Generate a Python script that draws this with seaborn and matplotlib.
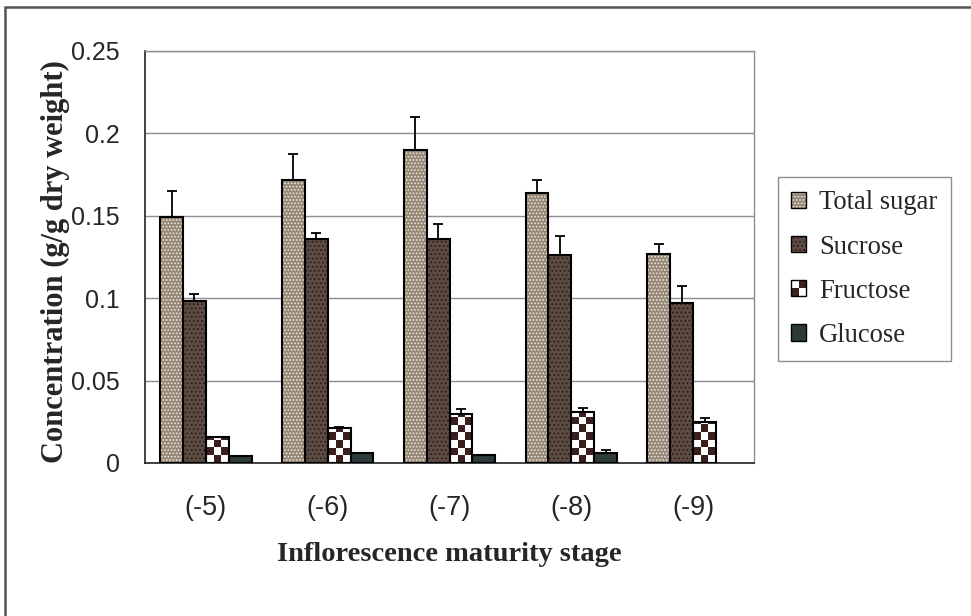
import seaborn as sns
import matplotlib.pyplot as plt
import matplotlib.patches as mpatches
from matplotlib.legend_handler import HandlerBase
from matplotlib.colors import ListedColormap
from matplotlib.ticker import FixedLocator, FuncFormatter
import numpy as np
import pandas as pd

stages = ['(-5)', '(-6)', '(-7)', '(-8)', '(-9)']
sugars = ['Total sugar', 'Sucrose', 'Fructose', 'Glucose']

total_sugar = [0.149, 0.172, 0.190, 0.164, 0.127]
sucrose = [0.098, 0.136, 0.136, 0.126, 0.097]
fructose = [0.016, 0.021, 0.030, 0.031, 0.025]
glucose = [0.0045, 0.006, 0.005, 0.006, 0.0]

# upper error only
total_sugar_err = [0.016, 0.0155, 0.020, 0.0075, 0.006]
sucrose_err = [0.0045, 0.0035, 0.009, 0.0115, 0.0105]
fructose_err = [0.0, 0.001, 0.0025, 0.0025, 0.0024]
glucose_err = [0.0, 0.0, 0.0, 0.002, 0.0]

values = [total_sugar, sucrose, fructose, glucose]
errors = [total_sugar_err, sucrose_err, fructose_err, glucose_err]

df = pd.DataFrame({
  'stage': np.tile(stages, len(sugars)),
  'sugar': np.repeat(sugars, len(stages)),
  'value': np.concatenate(values),
})

# face colour, hatch colour, hatch, checker
styles = {
  'Total sugar': ('#968676', '#ece6dc', '.....', False),
  'Sucrose': ('#5e4c43', '#281e1b', '....', False),
  'Fructose': ('#ffffff', '#3b1e1e', '', True),
  'Glucose': ('#2c3a3a', '#2c3a3a', '', False),
}

sns.set_style("white")
plt.rcParams['hatch.linewidth'] = 0.8

fig = plt.figure(figsize=(9.71, 6.16), dpi=100)
ax = fig.add_axes([145/971, 1 - 463/616, 609/971, 412/616])

sns.barplot(data=df, x='stage', y='value', hue='sugar', order=stages, hue_order=sugars,
            palette=[styles[s][0] for s in sugars], errorbar=None, width=0.75,
            legend=False, ax=ax)

ax.set_xlim(-0.5, 4.5)
ax.set_ylim(0, 0.25)

# data units per pixel (vertical)
px_per_unit = ax.get_window_extent().height / 0.25

bar_containers = list(ax.containers)
for i, cont in enumerate(bar_containers):
  face, hcol, hatch, checker = styles[sugars[i]]
  for j, bar in enumerate(cont.patches):
    bar.set_facecolor(face)
    bar.set_hatch(hatch)
    bar.set_edgecolor(hcol)
    bar.set_linewidth(0)
    bar.set_zorder(2)
    x0, w, h = bar.get_x(), bar.get_width(), bar.get_height()
    if h <= 0:
      continue
    if checker:
      ncol = 3
      w_px = w * ax.get_window_extent().width / 5.0
      sq_h = (w_px / ncol) / px_per_unit
      nrow = int(np.ceil(h / sq_h))
      pattern = np.add.outer(np.arange(nrow), np.arange(ncol)) % 2
      img = ax.imshow(pattern, cmap=ListedColormap([face, hcol]),
                      extent=[x0, x0 + w, 0, nrow * sq_h], origin='lower',
                      aspect='auto', interpolation='nearest', zorder=2.1)
      img.set_clip_path(bar)
    ax.add_patch(mpatches.Rectangle((x0, 0), w, h, fill=False, edgecolor='black',
                                    linewidth=1.5, zorder=3))
    err = errors[i][j]
    if err > 0:
      ax.errorbar(x0 + w / 2, h, yerr=[[0], [err]], fmt='none', ecolor='black',
                  elinewidth=1.3, capsize=3.8, capthick=1.3, zorder=4)

ax.set_xlim(-0.5, 4.5)
ax.set_ylim(0, 0.25)

# grid and spines
ax.set_axisbelow(True)
ax.yaxis.grid(True, color='#8e8c98', linewidth=1.0)
ax.xaxis.grid(False)
for side in ['left', 'bottom']:
  ax.spines[side].set_color('#222222')
  ax.spines[side].set_linewidth(1.2)
for side in ['top', 'right']:
  ax.spines[side].set_visible(True)
  ax.spines[side].set_color('#8e8c98')
  ax.spines[side].set_linewidth(1.0)

ax.set_yticks(np.arange(0, 0.2501, 0.05))
ax.yaxis.set_major_formatter(FuncFormatter(lambda v, p: f"{v:g}"))
ax.tick_params(axis='y', direction='out', length=5, width=1, color='#222222',
               pad=13, labelsize=18)
ax.tick_params(axis='x', which='major', length=0, pad=23, labelsize=19.5)
ax.xaxis.set_minor_locator(FixedLocator(np.arange(-0.5, 4.6, 1.0)))
ax.tick_params(axis='x', which='minor', direction='out', length=6, width=1, color='#222222')
for lab in ax.get_xticklabels() + ax.get_yticklabels():
  lab.set_family('Liberation Sans')

ax.set_xlabel('Inflorescence maturity stage', family='Liberation Serif', fontweight='bold',
              fontsize=20.5, labelpad=15)
ax.set_ylabel('')
fig.text(55/971, 1 - 262/616, 'Concentration (g/g dry weight)', rotation=90,
         family='Liberation Serif', fontweight='bold', fontsize=22,
         ha='center', va='center')

# legend with swatches
class Swatch:
  def __init__(self, name):
    self.name = name

class SwatchHandler(HandlerBase):
  def create_artists(self, legend, orig_handle, xdescent, ydescent, width, height, fontsize, trans):
    face, hcol, hatch, checker = styles[orig_handle.name]
    x, y = -xdescent, -ydescent
    arts = []
    if checker:
      for r in range(2):
        for c in range(2):
          col = hcol if (r + c) % 2 == 0 else face
          arts.append(mpatches.Rectangle((x + c * width / 2, y + r * height / 2), width / 2, height / 2,
                                         facecolor=col, linewidth=0, transform=trans))
    else:
      arts.append(mpatches.Rectangle((x, y), width, height, facecolor=face, edgecolor=hcol,
                                     hatch=hatch, linewidth=0, transform=trans))
    arts.append(mpatches.Rectangle((x, y), width, height, fill=False, edgecolor='black',
                                   linewidth=1.0, transform=trans))
    return arts

handles = [Swatch(s) for s in sugars]
leg = fig.legend(handles, sugars, handler_map={Swatch: SwatchHandler()},
                 loc='upper left', bbox_to_anchor=(778/971, 1 - 177/616),
                 prop={'family': 'Liberation Serif', 'size': 19.2},
                 frameon=True, fancybox=False, framealpha=1, edgecolor='#8e8c98',
                 handlelength=0.55, handleheight=0.55, handletextpad=0.5,
                 labelspacing=0.72, borderpad=0.5, borderaxespad=0)
leg.get_frame().set_linewidth(1.0)

# outer chart frame
fig.add_artist(mpatches.Rectangle((5/971, -0.02), 1.1, 1.02 - 7/616, fill=False,
                                  edgecolor='#555555', linewidth=1.8,
                                  transform=fig.transFigure))

plt.savefig('out.png', dpi=100)
